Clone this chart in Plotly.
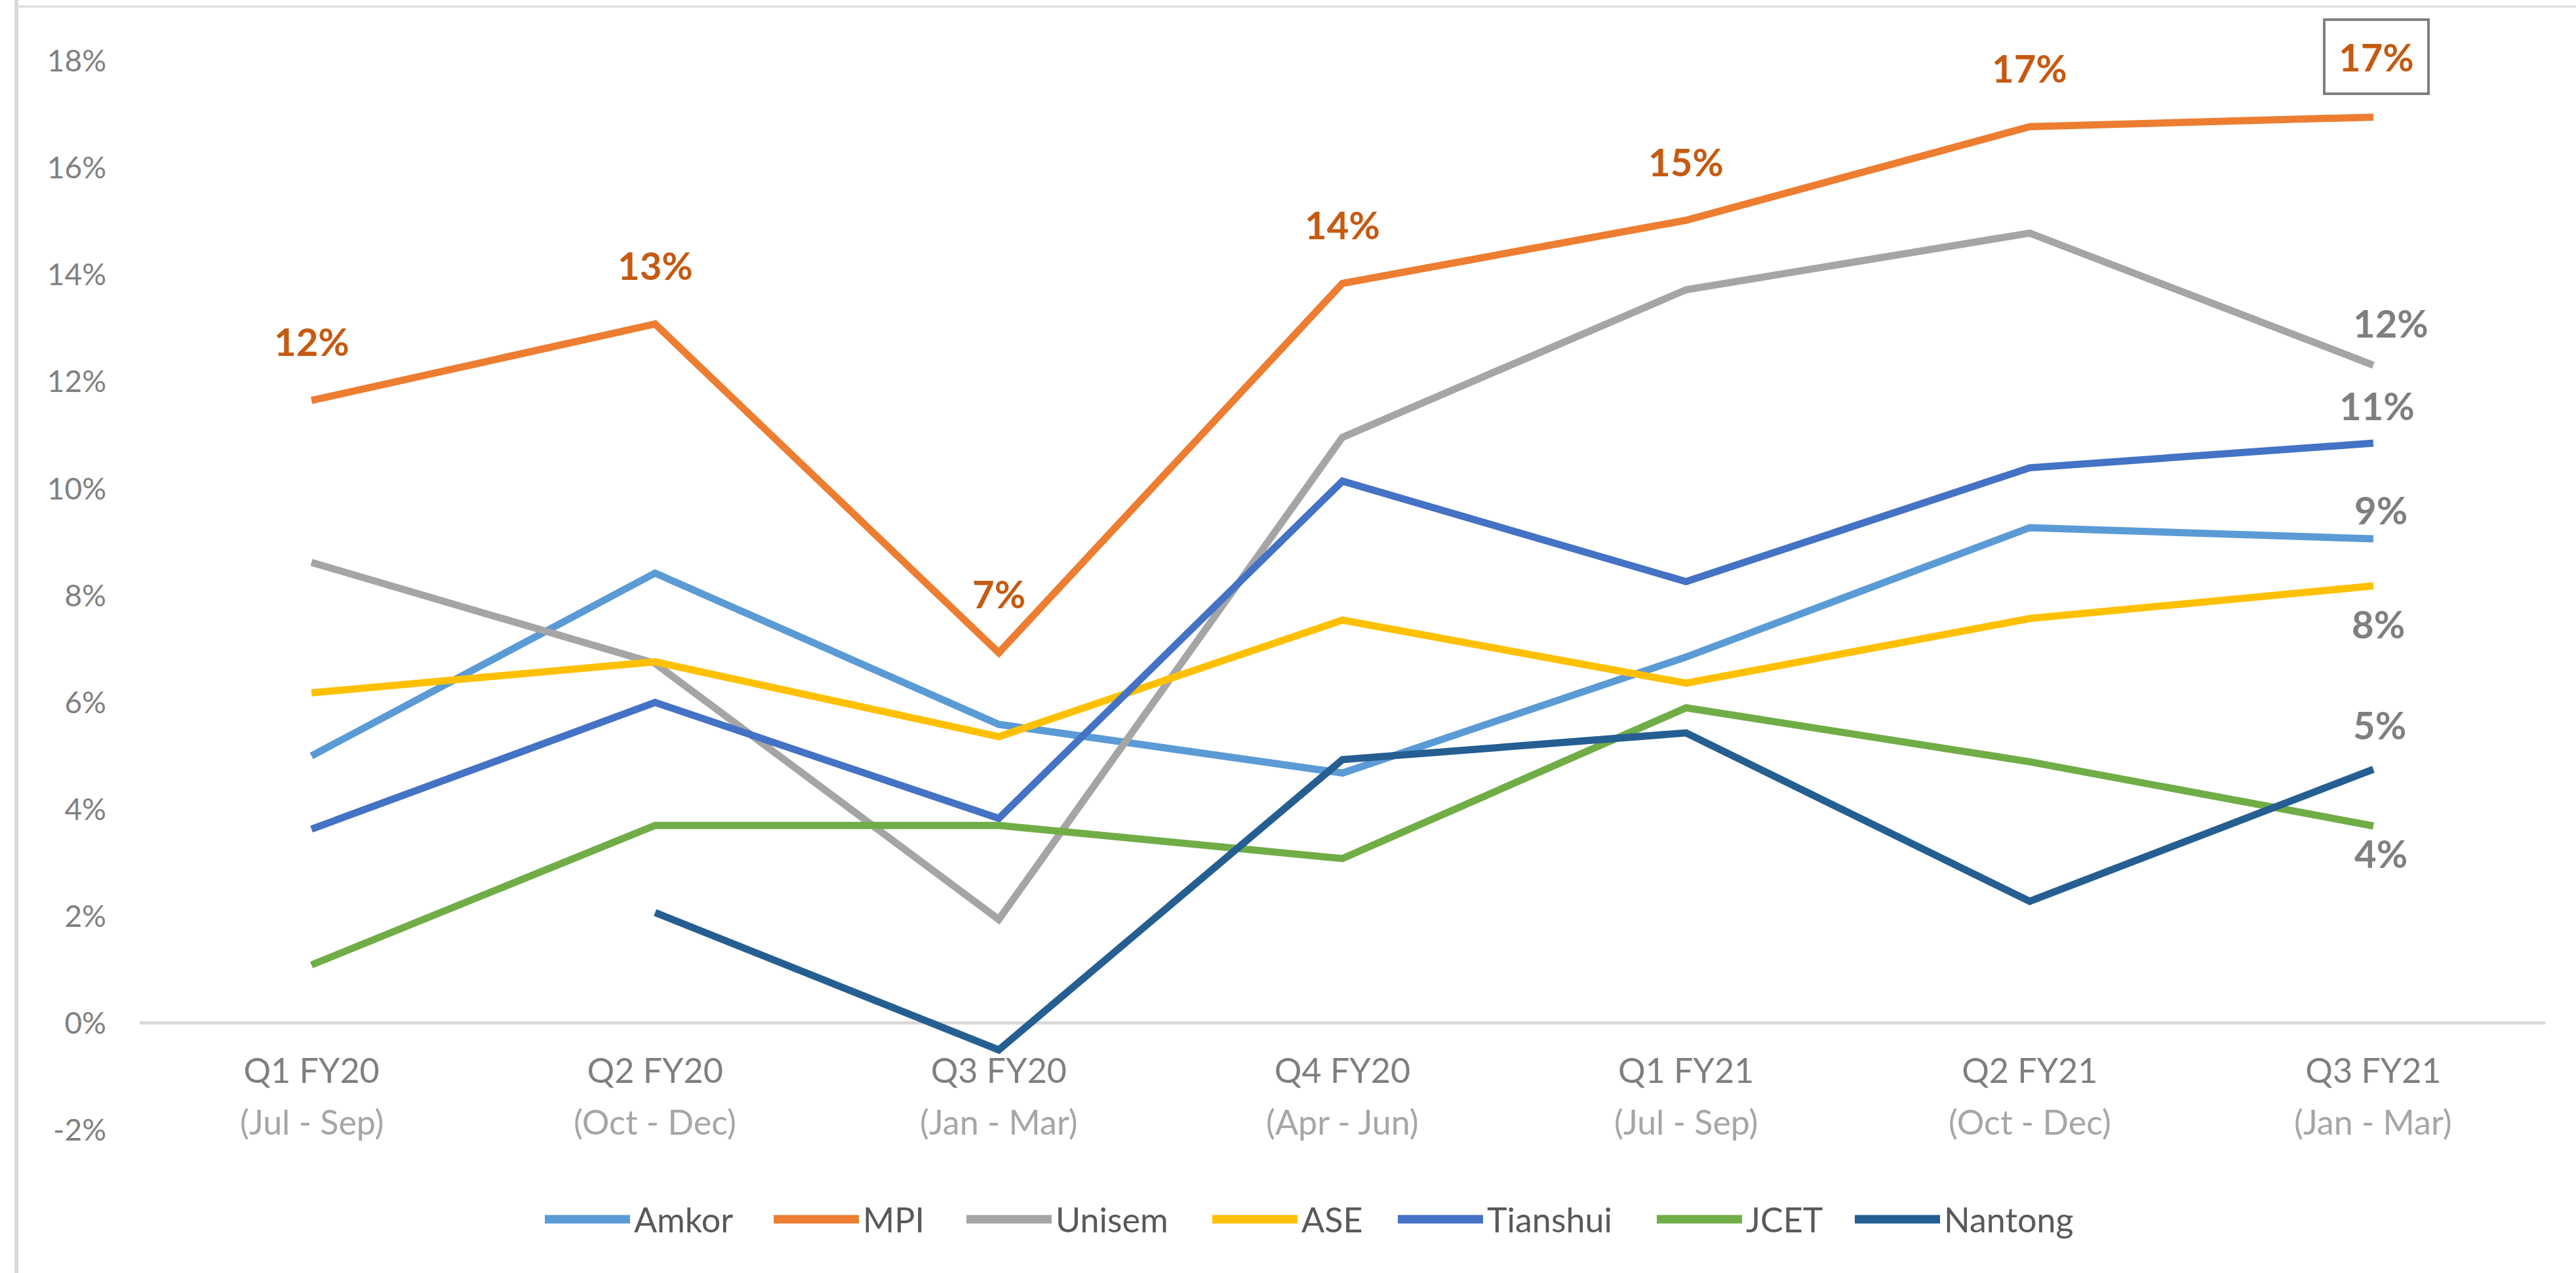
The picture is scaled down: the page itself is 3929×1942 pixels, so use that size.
import plotly.graph_objects as go

# ---------------- data ----------------
quarters = ["Q1 FY20", "Q2 FY20", "Q3 FY20", "Q4 FY20", "Q1 FY21", "Q2 FY21", "Q3 FY21"]
periods = ["(Jul - Sep)", "(Oct - Dec)", "(Jan - Mar)", "(Apr - Jun)",
           "(Jul - Sep)", "(Oct - Dec)", "(Jan - Mar)"]

amkor = [5.00, 8.42, 5.59, 4.68, 6.85, 9.27, 9.06]
mpi = [11.65, 13.08, 6.93, 13.84, 15.02, 16.77, 16.95]
unisem = [8.62, 6.73, 1.94, 10.96, 13.72, 14.78, 12.31]
ase = [6.18, 6.76, 5.36, 7.54, 6.36, 7.57, 8.18]
tianshui = [3.63, 6.00, 3.83, 10.14, 8.26, 10.39, 10.85]
jcet = [1.09, 3.70, 3.70, 3.08, 5.90, 4.89, 3.69]
nantong = [None, 2.07, -0.50, 4.93, 5.43, 2.28, 4.75]

series_names = ["Amkor", "MPI", "Unisem", "ASE", "Tianshui", "JCET", "Nantong"]
series_values = [amkor, mpi, unisem, ase, tianshui, jcet, nantong]
series_colors = ["#5b9bd5", "#ed7d31", "#a5a5a5", "#ffc000", "#4472c4", "#70ad47", "#255e91"]

y_ticks = [-2, 0, 2, 4, 6, 8, 10, 12, 14, 16, 18]
y_ticktext = [f"{v}%" for v in y_ticks]

FONT = "Lato"

# plot-area geometry (pixels) used to place the custom legend
W, H = 3929, 1942
ML, MR, MT, MB = 213, 47, 93, 218
PW, PH = W - ML - MR, H - MT - MB


def px_x(px):
    return (px - ML) / PW


def px_y(py):
    return (H - MB - py) / PH


fig = go.Figure()
for name, vals, col in zip(series_names, series_values, series_colors):
    fig.add_trace(go.Scatter(
        x=quarters, y=vals, name=name, mode="lines",
        line=dict(color=col, width=11),
        connectgaps=False, showlegend=False,
    ))

annotations = []
shapes = []

# second line of category labels
for q, p in zip(quarters, periods):
    annotations.append(dict(
        x=q, y=0, xref="x", yref="y", text=p, showarrow=False,
        yshift=-150, yanchor="middle",
        font=dict(family=FONT, size=52, color="#a6a6a6"),
    ))

# MPI labels above every point
for i, (q, v) in enumerate(zip(quarters, mpi)):
    last = i == len(quarters) - 1
    ann = dict(
        x=q, y=v, xref="x", yref="y", text=f"{round(v)}%", showarrow=False,
        yshift=90, yanchor="middle",
        font=dict(family=FONT, size=58, color="#c55a11", weight="bold"),
    )
    if last:
        ann.update(bordercolor="#7f7f7f", borderwidth=4, borderpad=20, xshift=5, yshift=92)
    annotations.append(ann)

# end labels for other series
end_offsets = {
    "Unisem": (27, 65),
    "Tianshui": (6, 58),
    "Amkor": (12, 45),
    "ASE": (8, -58),
    "Nantong": (10, 68),
    "JCET": (12, -42),
}
for name, vals in zip(series_names, series_values):
    if name in end_offsets:
        dx, dy = end_offsets[name]
        annotations.append(dict(
            x=quarters[-1], y=vals[-1], xref="x", yref="y",
            text=f"{round(vals[-1])}%", showarrow=False,
            xshift=dx, yshift=dy, yanchor="middle",
            font=dict(family=FONT, size=58, color="#7f7f7f", weight="bold"),
        ))

# custom legend (long line swatches like the original)
legend_starts = [831, 1180, 1474, 1849, 2132, 2527, 2829]
legend_y = 1860
for name, col, x0 in zip(series_names, series_colors, legend_starts):
    shapes.append(dict(
        type="line", xref="paper", yref="paper",
        x0=px_x(x0), x1=px_x(x0 + 130), y0=px_y(legend_y), y1=px_y(legend_y),
        line=dict(color=col, width=13),
    ))
    annotations.append(dict(
        x=px_x(x0 + 134), y=px_y(legend_y), xref="paper", yref="paper",
        text=name, showarrow=False, xanchor="left", yanchor="middle",
        font=dict(family=FONT, size=52, color="#595959"),
    ))

# chart border (left and top edges visible)
shapes += [
    dict(type="line", xref="paper", yref="paper",
         x0=px_x(25), x1=px_x(25), y0=px_y(H + 10), y1=px_y(0),
         line=dict(color="#d9d9d9", width=6)),
    dict(type="line", xref="paper", yref="paper",
         x0=px_x(22), x1=px_x(W + 10), y0=px_y(10), y1=px_y(10),
         line=dict(color="#d9d9d9", width=3)),
]

fig.update_layout(
    width=W, height=H,
    margin=dict(l=ML, r=MR, t=MT, b=MB),
    paper_bgcolor="white", plot_bgcolor="white",
    font=dict(family=FONT),
    showlegend=False,
    annotations=annotations,
    shapes=shapes,
)
fig.update_xaxes(
    type="category", range=[-0.5, 6.5],
    showgrid=False, showline=False, zeroline=False, ticks="",
    anchor="free", position=0.1,
    tickfont=dict(family=FONT, size=52, color="#7f7f7f"),
    ticklabelstandoff=38,
)
fig.update_yaxes(
    range=[-2, 18], tickmode="array", tickvals=y_ticks, ticktext=y_ticktext,
    showgrid=False, showline=False, ticks="",
    zeroline=True, zerolinecolor="#d9d9d9", zerolinewidth=5,
    tickfont=dict(family=FONT, size=46, color="#808080"),
    ticklabelstandoff=50,
)

fig.write_html(
    "out.html",
    config={"displayModeBar": False},
    post_script="document.body.style.margin='0';document.body.style.overflow='hidden';",
)
